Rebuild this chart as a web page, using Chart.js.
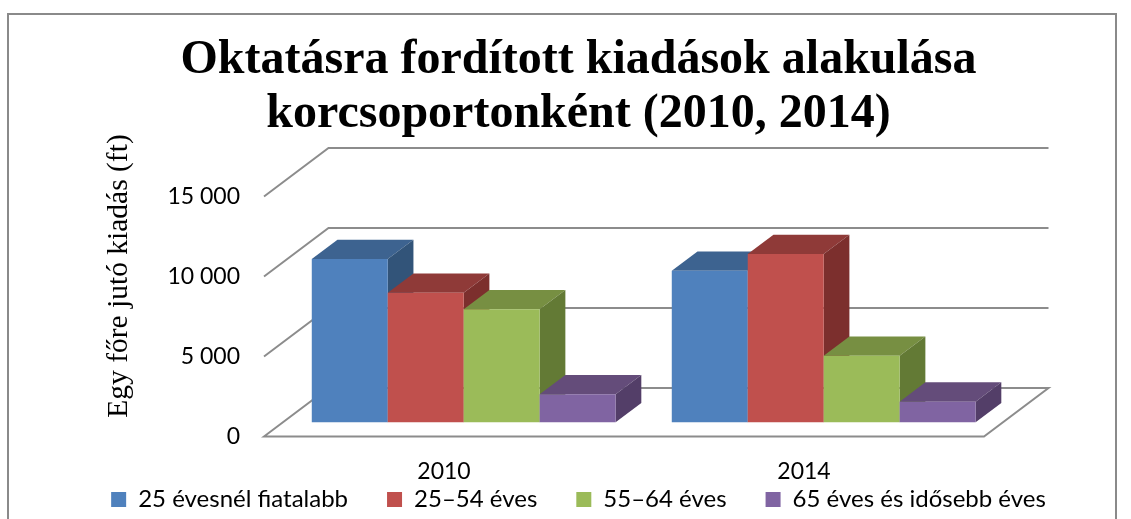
<!DOCTYPE html>
<html lang="hu">
<head>
<meta charset="utf-8">
<style>html,body{margin:0;padding:0;background:#fff;overflow:hidden}canvas{display:block}</style>
<script src="https://cdn.jsdelivr.net/npm/chart.js@4"></script>
</head>
<body>
<canvas id="c" width="1131" height="519"></canvas>
<script>
const categories = ['2010', '2014'];
const young = [10206, 9475];
const adult = [8100, 10520];
const older = [7060, 4160];
const senior = [1750, 1290];
const seriesNames = ['25 évesnél fiatalabb', '25–54 éves', '55–64 éves', '65 éves és idősebb éves'];
const frontColors = ['#4F81BD', '#C0504D', '#9BBB59', '#8064A2'];
const topColors = ['#3D6390', '#8F3A38', '#778F42', '#644C7A'];
const sideColors = ['#325479', '#7C2F2D', '#637A35', '#533E68'];
const titleLines = ['Oktatásra fordított kiadások alakulása', 'korcsoportonként (2010, 2014)'];
const yTitle = 'Egy főre jutó kiadás (ft)';

const WALL = {dx: 64.5, dy: -48.5};
const BAR_SHIFT = {dx: 19.7, dy: -14.2};
const DEPTH = {dx: 25.7, dy: -19.3};
const LEGEND_H = 32.5;
const LEGEND_LIFT = 38;

function poly(ctx, pts, fill) {
  ctx.beginPath();
  pts.forEach((p, i) => i ? ctx.lineTo(p[0], p[1]) : ctx.moveTo(p[0], p[1]));
  ctx.closePath();
  ctx.fillStyle = fill;
  ctx.fill();
}

const threeD = {
  id: 'threeD',
  beforeLayout(chart) {
    const lg = chart.legend;
    if (lg && !lg._wrapped) {
      const orig = lg.fit;
      lg.fit = function () { orig.call(this); this.height = LEGEND_H; };
      lg._wrapped = true;
    }
  },
  afterLayout(chart) {
    chart.legend.top -= LEGEND_LIFT;
  },
  beforeDatasetsDraw(chart) {
    const ctx = chart.ctx;
    const {left, right} = chart.chartArea;
    const y = chart.scales.y;
    // page frame
    ctx.save();
    ctx.strokeStyle = '#8a8a8a';
    ctx.lineWidth = 2;
    ctx.beginPath();
    ctx.moveTo(8, 519); ctx.lineTo(8, 14); ctx.lineTo(1116, 14); ctx.lineTo(1116, 519);
    ctx.stroke();
    // walls and floor
    ctx.strokeStyle = '#8c8c8c';
    ctx.lineWidth = 2;
    y.ticks.forEach((t, i) => {
      const py = y.getPixelForTick(i);
      ctx.beginPath();
      ctx.moveTo(left, py);
      ctx.lineTo(left + WALL.dx, py + WALL.dy);
      ctx.lineTo(right + WALL.dx, py + WALL.dy);
      if (t.value === 0) {
        ctx.lineTo(right, py);
        ctx.closePath();
      }
      ctx.stroke();
    });
    // y axis title
    ctx.translate(119, 276);
    ctx.rotate(-Math.PI / 2);
    ctx.font = '29.5px "Liberation Serif"';
    ctx.fillStyle = '#000';
    ctx.textAlign = 'center';
    ctx.textBaseline = 'middle';
    ctx.fillText(yTitle, 0, 0);
    ctx.restore();
    // bars, left to right
    ctx.save();
    ctx.translate(BAR_SHIFT.dx, BAR_SHIFT.dy);
    chart.data.datasets.forEach((ds, di) => {
      chart.getDatasetMeta(di).data.forEach(el => {
        const {x, y: top, base, width} = el.getProps(['x', 'y', 'base', 'width'], true);
        const l = x - width / 2, r = x + width / 2;
        poly(ctx, [[l, top], [r, top], [r + DEPTH.dx, top + DEPTH.dy], [l + DEPTH.dx, top + DEPTH.dy]], topColors[di]);
        poly(ctx, [[r, top], [r + DEPTH.dx, top + DEPTH.dy], [r + DEPTH.dx, base + DEPTH.dy], [r, base]], sideColors[di]);
        el.draw(ctx);
      });
    });
    ctx.restore();
    return false;
  }
};

// A tiny letter spacing turns off the "fi" ligature, as in the reference.
const canvas = document.getElementById('c');
canvas.getContext('2d').letterSpacing = '0.01px';

new Chart(canvas, {
  type: 'bar',
  data: {
    labels: categories,
    datasets: [young, adult, older, senior].map((d, i) => ({
      label: seriesNames[i],
      data: d,
      backgroundColor: frontColors[i],
      borderWidth: 0
    }))
  },
  plugins: [threeD],
  options: {
    responsive: false,
    animation: false,
    layout: {padding: {left: 26, right: 0, top: 0, bottom: 0}},
    datasets: {bar: {categoryPercentage: 0.844, barPercentage: 1}},
    scales: {
      x: {
        grid: {display: false},
        border: {display: false},
        ticks: {color: '#000', font: {family: 'Lato', size: 23}, padding: 13.5, autoSkip: false, maxRotation: 0, minRotation: 0},
        afterFit(s) { s.height = 50; }
      },
      y: {
        min: 0, max: 15000,
        grid: {display: false},
        border: {display: false},
        ticks: {
          stepSize: 5000,
          color: '#000',
          font: {family: 'Lato', size: 23},
          padding: 16,
          callback: v => String(v).replace(/\B(?=(\d{3})+$)/g, ' ')
        },
        afterFit(s) { s.width = 238; }
      },
      y2: {
        position: 'right',
        display: true,
        grid: {display: false},
        border: {display: false},
        ticks: {display: false},
        afterFit(s) { s.width = 147; }
      }
    },
    plugins: {
      tooltip: {enabled: false},
      title: {
        display: true,
        text: titleLines,
        color: '#000',
        font: {family: 'Liberation Serif', size: 48, weight: 'bold', lineHeight: 1.125},
        padding: {top: 34, bottom: 54.5}
      },
      legend: {
        position: 'bottom',
        labels: {
          color: '#000',
          font: {family: 'Lato', size: 24},
          boxWidth: 15, boxHeight: 15,
          padding: 39
        }
      }
    }
  }
});
</script>
</body>
</html>
